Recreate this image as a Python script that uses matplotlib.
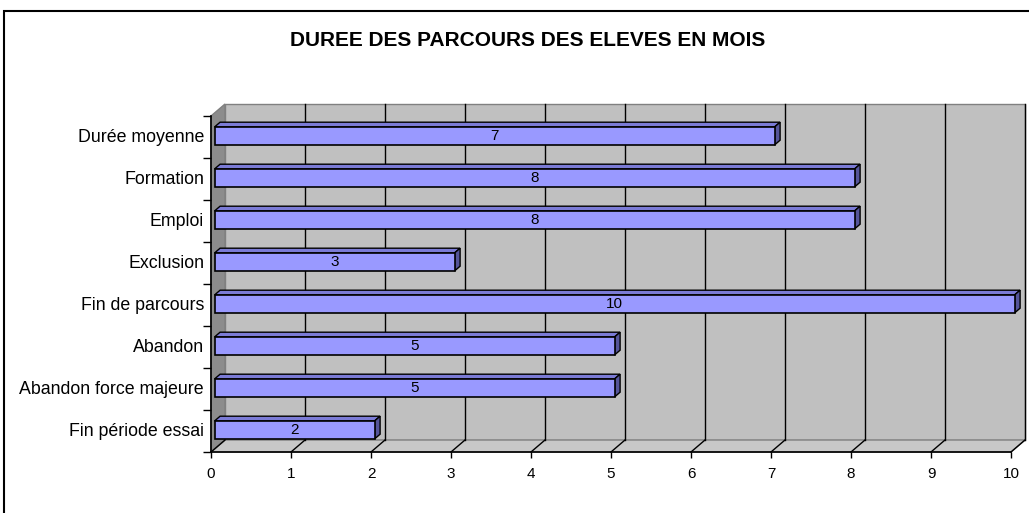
import matplotlib
matplotlib.use("Agg")
import matplotlib.pyplot as plt
from matplotlib.patches import Polygon, Rectangle
from matplotlib.lines import Line2D

categories = ["Fin période essai", "Abandon force majeure", "Abandon", "Fin de parcours",
              "Exclusion", "Emploi", "Formation", "Durée moyenne"]
values = [2, 5, 5, 10, 3, 8, 8, 7]
xticks = list(range(0, 11))
title = "DUREE DES PARCOURS DES ELEVES EN MOIS"

plt.rcParams['font.family'] = ['Liberation Sans', 'DejaVu Sans']

W, H = 1029, 513
fig = plt.figure(figsize=(W / 100, H / 100), dpi=100)
fig.patch.set_facecolor('white')

# front plane in pixels
x0p, x1p, y0p, y1p = 211, 1011, 452, 116
ax = fig.add_axes([x0p / W, 1 - y0p / H, (x1p - x0p) / W, (y0p - y1p) / H])
n = len(categories)
xmin, xmax = 0, 10
ymin, ymax = -0.5, n - 0.5
ax.set_xlim(xmin, xmax)
ax.set_ylim(ymin, ymax)
ax.set_facecolor('none')

upx = (xmax - xmin) / (x1p - x0p)
upy = (ymax - ymin) / (y0p - y1p)
dx, dy = 14 * upx, 12 * upy

wall_c = '#C0C0C0'
side_c = '#8C8C8C'
floor_c = '#C8C8C8'
edge_c = '#808080'

# back wall
ax.add_patch(Polygon([(xmin + dx, ymin + dy), (xmax + dx, ymin + dy), (xmax + dx, ymax + dy),
                      (xmin + dx, ymax + dy)], closed=True, facecolor=wall_c, edgecolor=edge_c,
                     lw=1, zorder=0, clip_on=False))
# floor
ax.add_patch(Polygon([(xmin, ymin), (xmax, ymin), (xmax + dx, ymin + dy), (xmin + dx, ymin + dy)],
                     closed=True, facecolor=floor_c, edgecolor=edge_c, lw=1, zorder=0, clip_on=False))
# left wall
ax.add_patch(Polygon([(xmin, ymin), (xmin + dx, ymin + dy), (xmin + dx, ymax + dy), (xmin, ymax)],
                     closed=True, facecolor=side_c, edgecolor=edge_c, lw=1, zorder=0, clip_on=False))

# gridlines
for k in xticks[1:]:
    ax.add_line(Line2D([k + dx, k + dx], [ymin + dy, ymax + dy], color='#000000', lw=1, zorder=1,
                       clip_on=False))
for k in xticks:
    ax.add_line(Line2D([k, k + dx], [ymin, ymin + dy], color='#000000', lw=1, zorder=1,
                       clip_on=False))

# bars
bar_h = 18 * upy
f0, f1 = 0.25, 0.65
front_c = '#9999FF'
top_c = '#7B7BD6'
right_c = '#55559A'
centers = []
for i, v in enumerate(values):
    bx, by = f0 * dx, f0 * dy
    ddx, ddy = (f1 - f0) * dx, (f1 - f0) * dy
    yc = i + by - 2 * upy
    centers.append(yc)
    yb, yt = yc - bar_h / 2, yc + bar_h / 2
    xl, xr = xmin + bx, v + bx
    ax.add_patch(Polygon([(xl, yt), (xr, yt), (xr + ddx, yt + ddy), (xl + ddx, yt + ddy)],
                         closed=True, facecolor=top_c, edgecolor='black', lw=1, zorder=2,
                         clip_on=False))
    ax.add_patch(Polygon([(xr, yb), (xr + ddx, yb + ddy), (xr + ddx, yt + ddy), (xr, yt)],
                         closed=True, facecolor=right_c, edgecolor='black', lw=1, zorder=2,
                         clip_on=False))
    ax.add_patch(Rectangle((xl, yb), xr - xl, yt - yb, facecolor=front_c, edgecolor='black',
                           lw=1.2, zorder=3, clip_on=False))
    ax.text((xl + xr) / 2, yc, str(v), ha='center', va='center', fontsize=11, zorder=4)

# axes
for s in ['top', 'right']:
    ax.spines[s].set_visible(False)
for s in ['left', 'bottom']:
    ax.spines[s].set_color('black')
    ax.spines[s].set_linewidth(1.2)
    ax.spines[s].set_zorder(5)
ax.set_xticks(xticks)
ax.set_xticklabels([str(t) for t in xticks], fontsize=11)
ax.tick_params(axis='x', length=4, width=1, pad=7)
ax.set_yticks(centers)
ax.set_yticklabels(categories, fontsize=12.8)
ax.tick_params(axis='y', which='major', length=0, pad=5)
ax.set_yticks([i - 0.5 for i in range(n + 1)], minor=True)
ax.tick_params(axis='y', which='minor', length=6, width=1)

fig.text(528 / W, 1 - 41 / H, title, ha='center', va='center', fontsize=15, fontweight='bold')

# outer chart border
fig.add_artist(Rectangle((4 / W, -0.2), 1.2, 1.2 - 11 / H, transform=fig.transFigure,
                         fill=False, edgecolor='black', lw=1.5))

fig.savefig('out.png', dpi=100)
